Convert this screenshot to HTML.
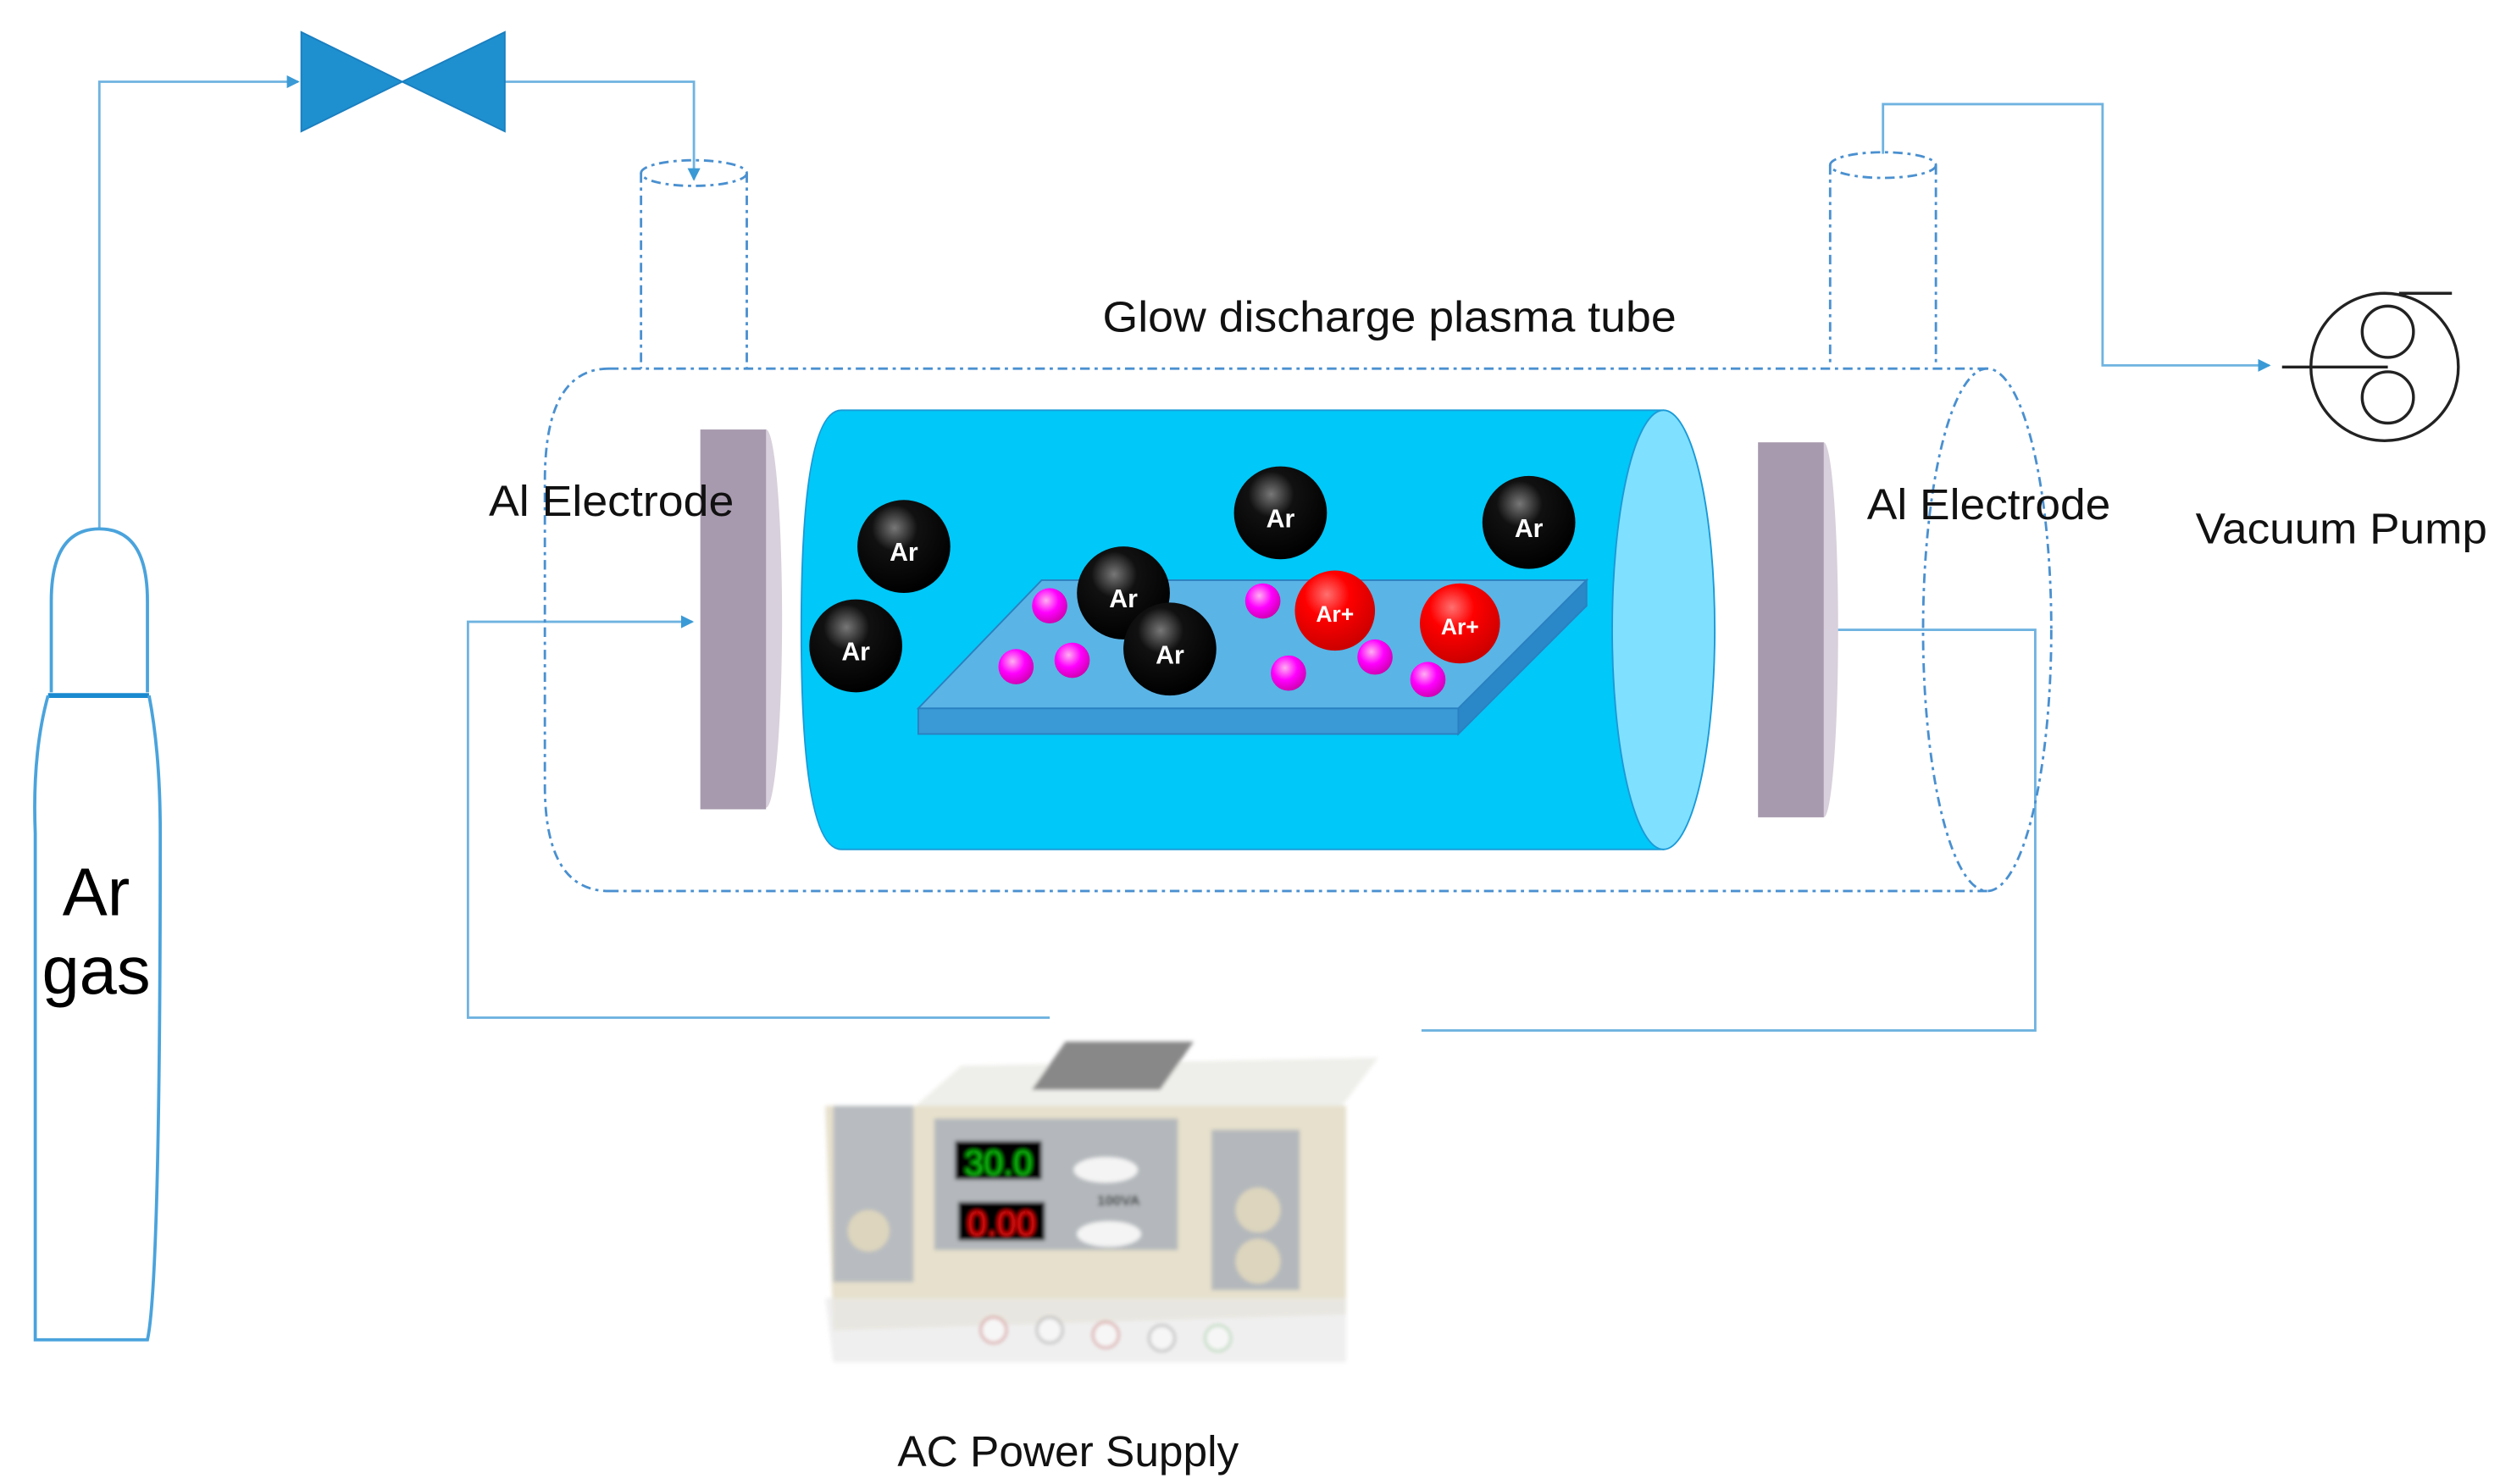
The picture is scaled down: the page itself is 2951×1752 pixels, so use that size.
<!DOCTYPE html>
<html><head><meta charset="utf-8"><style>
html,body{margin:0;padding:0;background:#fff;width:2951px;height:1752px;overflow:hidden}
svg{display:block}
text{font-family:"Liberation Sans","DejaVu Sans",sans-serif}
</style></head><body>
<svg width="2951" height="1752" viewBox="0 0 1560 926" preserveAspectRatio="none" xmlns="http://www.w3.org/2000/svg">
<defs>
<radialGradient id="bk" cx="0.4" cy="0.3" r="0.7"><stop offset="0" stop-color="#777"/><stop offset="0.35" stop-color="#111"/><stop offset="1" stop-color="#000"/></radialGradient>
<radialGradient id="rd" cx="0.4" cy="0.3" r="0.7"><stop offset="0" stop-color="#ff7070"/><stop offset="0.4" stop-color="#f00"/><stop offset="1" stop-color="#c00"/></radialGradient>
<radialGradient id="pk" cx="0.4" cy="0.35" r="0.7"><stop offset="0" stop-color="#ffb0f0"/><stop offset="0.5" stop-color="#f0f"/><stop offset="1" stop-color="#c0a"/></radialGradient>
<marker id="ar" markerWidth="8" markerHeight="8" refX="7" refY="4" orient="auto" markerUnits="userSpaceOnUse"><path d="M0,0 L8,4 L0,8z" fill="#3a9ad6"/></marker>
<filter id="bl"><feGaussianBlur stdDeviation="1.2"/></filter>
</defs>
<g fill="none" stroke="#6fb3e0" stroke-width="1.5">
<path d="M62,330 V51 H186" marker-end="url(#ar)"/>
<path d="M315,51 H433 V112" marker-end="url(#ar)"/>
<path d="M1175,96 V65 H1312 V228 H1416" marker-end="url(#ar)"/>
<path d="M655,635 H292 V388 H432" marker-end="url(#ar)"/>
<path d="M887,643 H1270 V393 H1140" marker-end="url(#ar)"/>
</g>
<path d="M188,20 L251,51 L188,82z M315,20 L251,51 L315,82z" fill="#1e90d0" stroke="#1a7fc0"/>
<g fill="none" stroke="#4aa3dc" stroke-width="2">
<path d="M32,432 V375 Q32,330 62,330 Q92,330 92,375 V432"/>
<path d="M30,434 H93" stroke-width="3" stroke="#1a8ad0"/>
<path d="M30,434 Q20,470 22,520 V836 H92 Q100,800 100,520 Q100,470 93,434"/>
</g>
<text x="60" y="571" font-size="42" text-anchor="middle" fill="#000">Ar</text>
<text x="60" y="620" font-size="42" text-anchor="middle" fill="#000">gas</text>
<g fill="none" stroke="#4a90d0" stroke-width="1.5" stroke-dasharray="6,3,2,3">
<ellipse cx="433" cy="108" rx="33" ry="8"/>
<path d="M400,108 V230 M466,108 V230"/>
<ellipse cx="1175" cy="103" rx="33" ry="8"/>
<path d="M1142,103 V228 M1208,103 V228"/>
<path d="M380,230 H1240 M380,556 H1240 M380,230 Q340,230 340,300 V490 Q340,556 380,556"/>
<ellipse cx="1240" cy="393" rx="40" ry="163"/>
</g>
<path d="M525,256 H1038 V530 H525 Q500,530 500,393 Q500,256 525,256z" fill="#00c8f8" stroke="#1a9ad8"/>
<ellipse cx="1038" cy="393" rx="32" ry="137" fill="#80e0ff" stroke="#1a9ad8"/>
<ellipse cx="478" cy="386" rx="10" ry="118" fill="#d8d0dc"/>
<rect x="437" y="268" width="41" height="237" fill="#a89aae"/>
<ellipse cx="1138" cy="393" rx="9" ry="117" fill="#d8d0dc"/>
<rect x="1097" y="276" width="41" height="234" fill="#a89aae"/>
<text x="305" y="322" font-size="27" fill="#111" textLength="153" lengthAdjust="spacingAndGlyphs">Al Electrode</text>
<text x="1165" y="324" font-size="27" fill="#111" textLength="152" lengthAdjust="spacingAndGlyphs">Al Electrode</text>
<text x="688" y="207" font-size="27" fill="#111" textLength="358" lengthAdjust="spacingAndGlyphs">Glow discharge plasma tube</text>
<text x="1370" y="339" font-size="27" fill="#111" textLength="182" lengthAdjust="spacingAndGlyphs">Vacuum Pump</text>
<path d="M573,442 L650,362 L990,362 L910,442z" fill="#5ab4e6" stroke="#2a80c0"/>
<path d="M573,442 H910 V458 H573z" fill="#3a9ad6" stroke="#2a80c0"/>
<path d="M910,442 L990,362 V378 L910,458z" fill="#2a88c8" stroke="#2a80c0"/>
<g font-size="16" font-weight="bold" fill="#fff" text-anchor="middle">
<circle cx="564" cy="341" r="29" fill="url(#bk)"/><text x="564" y="350">Ar</text>
<circle cx="534" cy="403" r="29" fill="url(#bk)"/><text x="534" y="412">Ar</text>
<circle cx="799" cy="320" r="29" fill="url(#bk)"/><text x="799" y="329">Ar</text>
<circle cx="954" cy="326" r="29" fill="url(#bk)"/><text x="954" y="335">Ar</text>
<circle cx="655" cy="378" r="11" fill="url(#pk)"/>
<circle cx="634" cy="416" r="11" fill="url(#pk)"/>
<circle cx="669" cy="412" r="11" fill="url(#pk)"/>
<circle cx="788" cy="375" r="11" fill="url(#pk)"/>
<circle cx="804" cy="420" r="11" fill="url(#pk)"/>
<circle cx="858" cy="410" r="11" fill="url(#pk)"/>
<circle cx="891" cy="424" r="11" fill="url(#pk)"/>
<circle cx="701" cy="370" r="29" fill="url(#bk)"/><text x="701" y="379">Ar</text>
<circle cx="730" cy="405" r="29" fill="url(#bk)"/><text x="730" y="414">Ar</text>
<circle cx="833" cy="381" r="25" fill="url(#rd)"/><text x="833" y="388" font-size="14">Ar+</text>
<circle cx="911" cy="389" r="25" fill="url(#rd)"/><text x="911" y="396" font-size="14">Ar+</text>
</g>
<g fill="none" stroke="#222" stroke-width="1.8">
<circle cx="1488" cy="229" r="46"/>
<circle cx="1490" cy="207" r="16"/>
<circle cx="1490" cy="248" r="16"/>
<path d="M1424,229 H1490 M1497,183 H1530"/>
</g>
<g filter="url(#bl)">
<path d="M560,700 L600,665 L860,660 L830,700z" fill="#eeeeea"/>
<rect x="650" y="650" width="80" height="30" fill="#888" transform="skewX(-35) translate(470,0)"/>
<path d="M515,690 H840 V820 L520,830z" fill="#e6e0cc"/>
<rect x="520" y="690" width="50" height="110" fill="#b8bcc0"/>
<rect x="583" y="698" width="152" height="82" fill="#b4b8bc"/>
<rect x="756" y="705" width="55" height="100" fill="#b4b8bc"/>
<rect x="596" y="712" width="54" height="24" fill="#000"/>
<text x="623" y="733" font-size="22" fill="#1c1" text-anchor="middle" font-family="Liberation Mono">30.0</text>
<rect x="598" y="750" width="54" height="24" fill="#000"/>
<text x="625" y="771" font-size="22" fill="#f11" text-anchor="middle" font-family="Liberation Mono">0.00</text>
<ellipse cx="690" cy="730" rx="20" ry="8" fill="#f4f4f4"/>
<ellipse cx="692" cy="770" rx="20" ry="8" fill="#f4f4f4"/>
<text x="698" y="752" font-size="9" fill="#222" text-anchor="middle" font-weight="bold">100VA</text>
<circle cx="785" cy="755" r="14" fill="#ddd5bd"/>
<circle cx="785" cy="787" r="14" fill="#ddd5bd"/>
<circle cx="542" cy="768" r="13" fill="#ddd5bd"/>
<path d="M515,810 H840 V850 H520z" fill="#e8e8e8" opacity="0.7"/>
<circle cx="620" cy="830" r="8" fill="#f6f6f6" stroke="#c66"/>
<circle cx="655" cy="830" r="8" fill="#f6f6f6" stroke="#999"/>
<circle cx="690" cy="833" r="8" fill="#f6f6f6" stroke="#c66"/>
<circle cx="725" cy="835" r="8" fill="#f6f6f6" stroke="#999"/>
<circle cx="760" cy="835" r="8" fill="#f6f6f6" stroke="#9c9"/>
</g>
<text x="560" y="915" font-size="27" fill="#111" textLength="213" lengthAdjust="spacingAndGlyphs">AC Power Supply</text>
</svg>
</body></html>
